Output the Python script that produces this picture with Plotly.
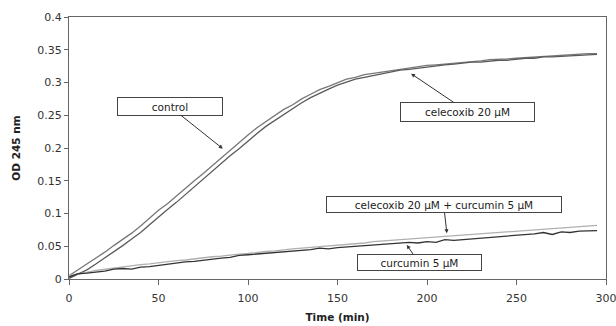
import plotly.graph_objects as go

time_min = [0, 5, 10, 15, 20, 25, 30, 35, 40, 45, 50, 55, 60, 65, 70, 75, 80, 85, 90, 95,
            100, 105, 110, 115, 120, 125, 130, 135, 140, 145, 150, 155, 160, 165, 170, 175, 180, 185, 190, 195,
            200, 205, 210, 215, 220, 225, 230, 235, 240, 245, 250, 255, 260, 265, 270, 275, 280, 285, 290, 295]

control = [0.005, 0.014, 0.022, 0.031, 0.041, 0.051, 0.060, 0.070, 0.081, 0.093, 0.105, 0.115, 0.127, 0.139, 0.150, 0.161, 0.173, 0.185, 0.197, 0.208,
           0.220, 0.231, 0.240, 0.250, 0.259, 0.266, 0.275, 0.282, 0.289, 0.294, 0.300, 0.305, 0.308, 0.312, 0.314, 0.316, 0.319, 0.320, 0.322, 0.324,
           0.326, 0.327, 0.328, 0.330, 0.331, 0.332, 0.333, 0.335, 0.335, 0.336, 0.337, 0.338, 0.339, 0.340, 0.341, 0.341, 0.342, 0.343, 0.344, 0.344]

celecoxib = [0.001, 0.007, 0.014, 0.023, 0.032, 0.042, 0.051, 0.061, 0.071, 0.083, 0.095, 0.106, 0.117, 0.129, 0.141, 0.152, 0.164, 0.176, 0.188, 0.199,
             0.211, 0.222, 0.233, 0.242, 0.252, 0.260, 0.269, 0.277, 0.284, 0.290, 0.296, 0.301, 0.305, 0.308, 0.311, 0.314, 0.317, 0.319, 0.320, 0.322,
             0.324, 0.326, 0.327, 0.328, 0.330, 0.331, 0.331, 0.333, 0.334, 0.334, 0.336, 0.337, 0.337, 0.339, 0.339, 0.340, 0.341, 0.342, 0.342, 0.343]

curcumin = [0.003, 0.008, 0.009, 0.010, 0.012, 0.015, 0.016, 0.015, 0.018, 0.019, 0.021, 0.022, 0.024, 0.026, 0.027, 0.029, 0.030, 0.032, 0.033, 0.036,
            0.037, 0.038, 0.039, 0.041, 0.042, 0.043, 0.044, 0.045, 0.047, 0.046, 0.048, 0.049, 0.050, 0.050, 0.052, 0.053, 0.053, 0.055, 0.056, 0.055,
            0.057, 0.056, 0.060, 0.059, 0.060, 0.062, 0.063, 0.063, 0.065, 0.065, 0.066, 0.067, 0.069, 0.071, 0.068, 0.072, 0.071, 0.073, 0.074, 0.074]

cel_cur = [0.005, 0.007, 0.010, 0.013, 0.015, 0.017, 0.019, 0.020, 0.022, 0.023, 0.025, 0.026, 0.028, 0.029, 0.031, 0.032, 0.034, 0.035, 0.037, 0.038,
           0.039, 0.041, 0.042, 0.043, 0.045, 0.046, 0.047, 0.048, 0.050, 0.051, 0.052, 0.053, 0.054, 0.055, 0.057, 0.058, 0.059, 0.060, 0.061, 0.062,
           0.063, 0.064, 0.065, 0.066, 0.067, 0.068, 0.069, 0.070, 0.071, 0.072, 0.073, 0.074, 0.075, 0.076, 0.077, 0.078, 0.079, 0.080, 0.081, 0.082]

labels = ["control", "celecoxib 20 \u00b5M", "celecoxib 20 \u00b5M + curcumin 5 \u00b5M", "curcumin 5 \u00b5M"]

fig = go.Figure()
fig.add_trace(go.Scatter(x=time_min, y=control, mode="lines", name=labels[0],
                         line=dict(color="#777777", width=1.3)))
fig.add_trace(go.Scatter(x=time_min, y=celecoxib, mode="lines", name=labels[1],
                         line=dict(color="#5a5a5a", width=1.3)))
fig.add_trace(go.Scatter(x=time_min, y=cel_cur, mode="lines", name=labels[2],
                         line=dict(color="#b0b0b0", width=1.3)))
fig.add_trace(go.Scatter(x=time_min, y=curcumin, mode="lines", name=labels[3],
                         line=dict(color="#333333", width=1.3)))

font_fam = "DejaVu Sans"
ann_common = dict(xref="x", yref="y", axref="x", ayref="y", showarrow=True,
                  arrowhead=2, arrowsize=0.8, arrowwidth=1, arrowcolor="#333333",
                  bgcolor="white", bordercolor="#444444", borderwidth=1, borderpad=1,
                  font=dict(family=font_fam, size=10.5, color="#222222"))

fig.add_annotation(text=labels[0], x=85.9, y=0.199, ax=56.2, ay=0.2637, width=102, height=15, **ann_common)
fig.add_annotation(text=labels[1], x=191.1, y=0.3135, ax=222.7, ay=0.2553, width=131, height=16, **ann_common)
fig.add_annotation(text=labels[2], x=211.1, y=0.0700, ax=209.3, ay=0.1131, width=232, height=13, **ann_common)
fig.add_annotation(text=labels[3], x=188.7, y=0.052, ax=195.6, ay=0.0245, width=121, height=13, **ann_common)

fig.update_layout(
    width=616, height=326,
    margin=dict(l=69, r=10, t=17, b=47),
    paper_bgcolor="white", plot_bgcolor="white",
    showlegend=False,
    font=dict(family=font_fam, size=11, color="#333333"),
)
fig.update_xaxes(range=[0, 300], dtick=50, tick0=0, showgrid=False, zeroline=False,
                 showline=True, linecolor="#666666", linewidth=1, mirror=True,
                 ticks="outside", ticklen=5, tickcolor="#666666", automargin=False,
                 ticklabeloverflow="allow", ticklabelstandoff=4,
                 tickfont=dict(size=11, color="#333333"),
                 title=dict(text="<b>Time (min)</b>", font=dict(size=10.5, color="#222222"), standoff=9))
fig.update_yaxes(range=[0, 0.4], dtick=0.05, tick0=0, showgrid=False, zeroline=False,
                 showline=True, linecolor="#666666", linewidth=1, mirror=True,
                 ticks="outside", ticklen=4, tickcolor="#666666", automargin=False,
                 tickfont=dict(size=11, color="#333333"),
                 title=dict(text="<b>OD 245 nm</b>", font=dict(size=10.5, color="#222222"), standoff=14))

fig.write_html("out.html")
